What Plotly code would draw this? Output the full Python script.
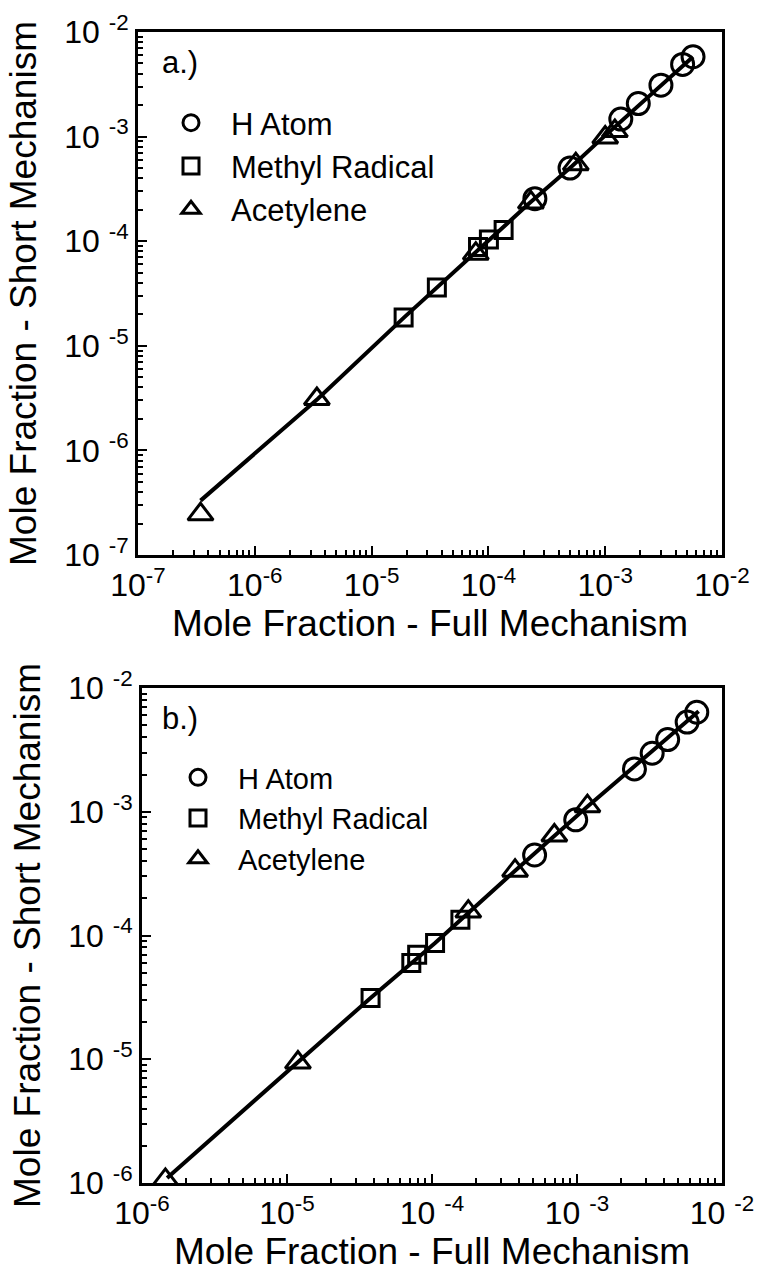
import plotly.graph_objects as go

FONT = "Liberation Sans, Arial, Helvetica, sans-serif"

# ---------------- panel a.) ----------------
a_h_x = [5.65e-3, 4.6e-3, 3.0e-3, 1.92e-3, 1.36e-3, 5.0e-4, 2.5e-4]
a_h_y = [5.8e-3, 4.9e-3, 3.1e-3, 2.07e-3, 1.47e-3, 5.0e-4, 2.55e-4]
a_me_x = [1.35e-4, 1.01e-4, 8.15e-5, 3.62e-5, 1.88e-5]
a_me_y = [1.28e-4, 1.04e-4, 8.8e-5, 3.61e-5, 1.86e-5]
a_ac_x = [1.21e-3, 1.0e-3, 5.6e-4, 2.31e-4, 7.8e-5, 3.4e-6, 3.43e-7]
a_ac_y = [1.13e-3, 9.8e-4, 5.45e-4, 2.34e-4, 7.6e-5, 3.1e-6, 2.45e-7]
a_line_x = [3.43e-7, 3.45e-6, 1.89e-5, 6.5e-5, 2.24e-4, 5.19e-4, 8.9e-4, 5.65e-3]
a_line_y = [3.31e-7, 3.1e-6, 1.86e-5, 6.6e-5, 2.3e-4, 5.2e-4, 9.1e-4, 5.8e-3]

# ---------------- panel b.) ----------------
b_h_x = [6.7e-3, 5.75e-3, 4.22e-3, 3.3e-3, 2.49e-3, 9.8e-4, 5.1e-4]
b_h_y = [6.37e-3, 5.3e-3, 3.83e-3, 2.97e-3, 2.22e-3, 8.6e-4, 4.47e-4]
b_me_x = [1.57e-4, 1.05e-4, 7.9e-5, 7.2e-5, 3.77e-5]
b_me_y = [1.34e-4, 8.7e-5, 7.0e-5, 6.0e-5, 3.13e-5]
b_ac_x = [1.18e-3, 6.98e-4, 3.74e-4, 1.78e-4, 1.19e-5, 1.45e-6]
b_ac_y = [1.11e-3, 6.43e-4, 3.34e-4, 1.56e-4, 9.4e-6, 1.06e-6]
b_line_x = [1.49e-6, 1.19e-5, 3.77e-5, 1.05e-4, 1.82e-4, 3.74e-4, 1.15e-3, 6.9e-3]
b_line_y = [1.1e-6, 9.4e-6, 3.13e-5, 8.7e-5, 1.56e-4, 3.34e-4, 1.07e-3, 6.5e-3]

series_names = ["H Atom", "Methyl Radical", "Acetylene"]

# tick labels (as printed in the figure)
a_tickvals = [1e-7, 1e-6, 1e-5, 1e-4, 1e-3, 1e-2]
a_xticktext = ["10<sup>-7</sup>", "10<sup>-6</sup>", "10<sup>-5</sup>",
               "10<sup>-4</sup>", "10<sup>-3</sup>", "10<sup>-2</sup>"]
a_yticktext = ["10 <sup>-7</sup>", "10 <sup>-6</sup>", "10 <sup>-5</sup>",
               "10 <sup>-4</sup>", "10 <sup>-3</sup>", "10 <sup>-2</sup>"]
b_tickvals = [1e-6, 1e-5, 1e-4, 1e-3, 1e-2]
b_xticktext = ["10<sup>-6</sup>", "10<sup>-5</sup>", "10 <sup>-4</sup>",
               "10 <sup>-3</sup>", "10 <sup>-2</sup>"]
b_yticktext = ["10 <sup>-6</sup>", "10 <sup>-5</sup>", "10 <sup>-4</sup>",
               "10 <sup>-3</sup>", "10 <sup>-2</sup>"]

x_title = "Mole Fraction - Full Mechanism"
y_title = "Mole Fraction - Short Mechanism"

fig = go.Figure()

line_style = dict(color="black", width=4)
sym = {"H Atom": ("circle-open", 22), "Methyl Radical": ("square-open", 17),
       "Acetylene": ("triangle-up-open", 22)}


def add_panel(xref, yref, legend, lx, ly, hx, hy, mx, my, ax, ay):
    fig.add_trace(go.Scatter(x=lx, y=ly, mode="lines", line=line_style,
                             showlegend=False, xaxis=xref, yaxis=yref, hoverinfo="skip"))
    for name, xs, ys in zip(series_names, [hx, mx, ax], [hy, my, ay]):
        s, size = sym[name]
        fig.add_trace(go.Scatter(x=xs, y=ys, mode="markers", name=name,
                                 marker=dict(symbol=s, size=size, color="black",
                                             line=dict(color="black", width=3)),
                                 xaxis=xref, yaxis=yref, legend=legend))


add_panel("x", "y", "legend", a_line_x, a_line_y, a_h_x, a_h_y, a_me_x, a_me_y, a_ac_x, a_ac_y)
add_panel("x2", "y2", "legend2", b_line_x, b_line_y, b_h_x, b_h_y, b_me_x, b_me_y, b_ac_x, b_ac_y)

W, H = 773, 1282


def px_x(p):
    return p / W


def px_y(p):
    return 1 - p / H


def axis(rng, tv, tt, dom, anchor, title, standoff):
    return dict(type="log", range=rng, domain=dom, anchor=anchor, automargin=False,
                tickmode="array", tickvals=tv, ticktext=tt,
                showline=True, linecolor="black", linewidth=3, mirror=True,
                ticks="inside", ticklen=9, tickwidth=2, tickcolor="black",
                showgrid=False, zeroline=False,
                minor=dict(ticks="inside", ticklen=5, tickwidth=1.5, tickcolor="black",
                           dtick="D1", showgrid=False),
                tickfont=dict(family=FONT, size=32, color="black"),
                title=dict(text=title, font=dict(family=FONT, size=37, color="black"),
                           standoff=standoff))


fig.update_layout(
    template="none",
    width=W, height=H,
    margin=dict(l=0, r=0, t=0, b=0, autoexpand=False),
    paper_bgcolor="white", plot_bgcolor="white",
    font=dict(family=FONT, color="black"),
    xaxis=axis([-7, -2], a_tickvals, a_xticktext, [px_x(138), px_x(722)], "y", x_title, 4),
    yaxis=axis([-7, -2], a_tickvals, a_yticktext, [px_y(555), px_y(32)], "x", y_title, 17),
    xaxis2=axis([-6, -2], b_tickvals, b_xticktext, [px_x(142), px_x(722)], "y2", x_title, 4),
    yaxis2=axis([-6, -2], b_tickvals, b_yticktext, [px_y(1183), px_y(688)], "x2", y_title, 17),
    legend=dict(x=px_x(151), y=px_y(96), xanchor="left", yanchor="top",
                font=dict(family=FONT, size=31, color="black"),
                itemwidth=70, bgcolor="rgba(0,0,0,0)", borderwidth=0),
    legend2=dict(x=px_x(158), y=px_y(752), xanchor="left", yanchor="top",
                 font=dict(family=FONT, size=29, color="black"),
                 itemwidth=70, bgcolor="rgba(0,0,0,0)", borderwidth=0),
    annotations=[
        dict(text="a.)", x=px_x(160), y=px_y(62), xref="paper", yref="paper",
             xanchor="left", yanchor="middle", showarrow=False,
             font=dict(family=FONT, size=31, color="black")),
        dict(text="b.)", x=px_x(160), y=px_y(718), xref="paper", yref="paper",
             xanchor="left", yanchor="middle", showarrow=False,
             font=dict(family=FONT, size=31, color="black")),
    ],
)

fig.write_html("out.html")
